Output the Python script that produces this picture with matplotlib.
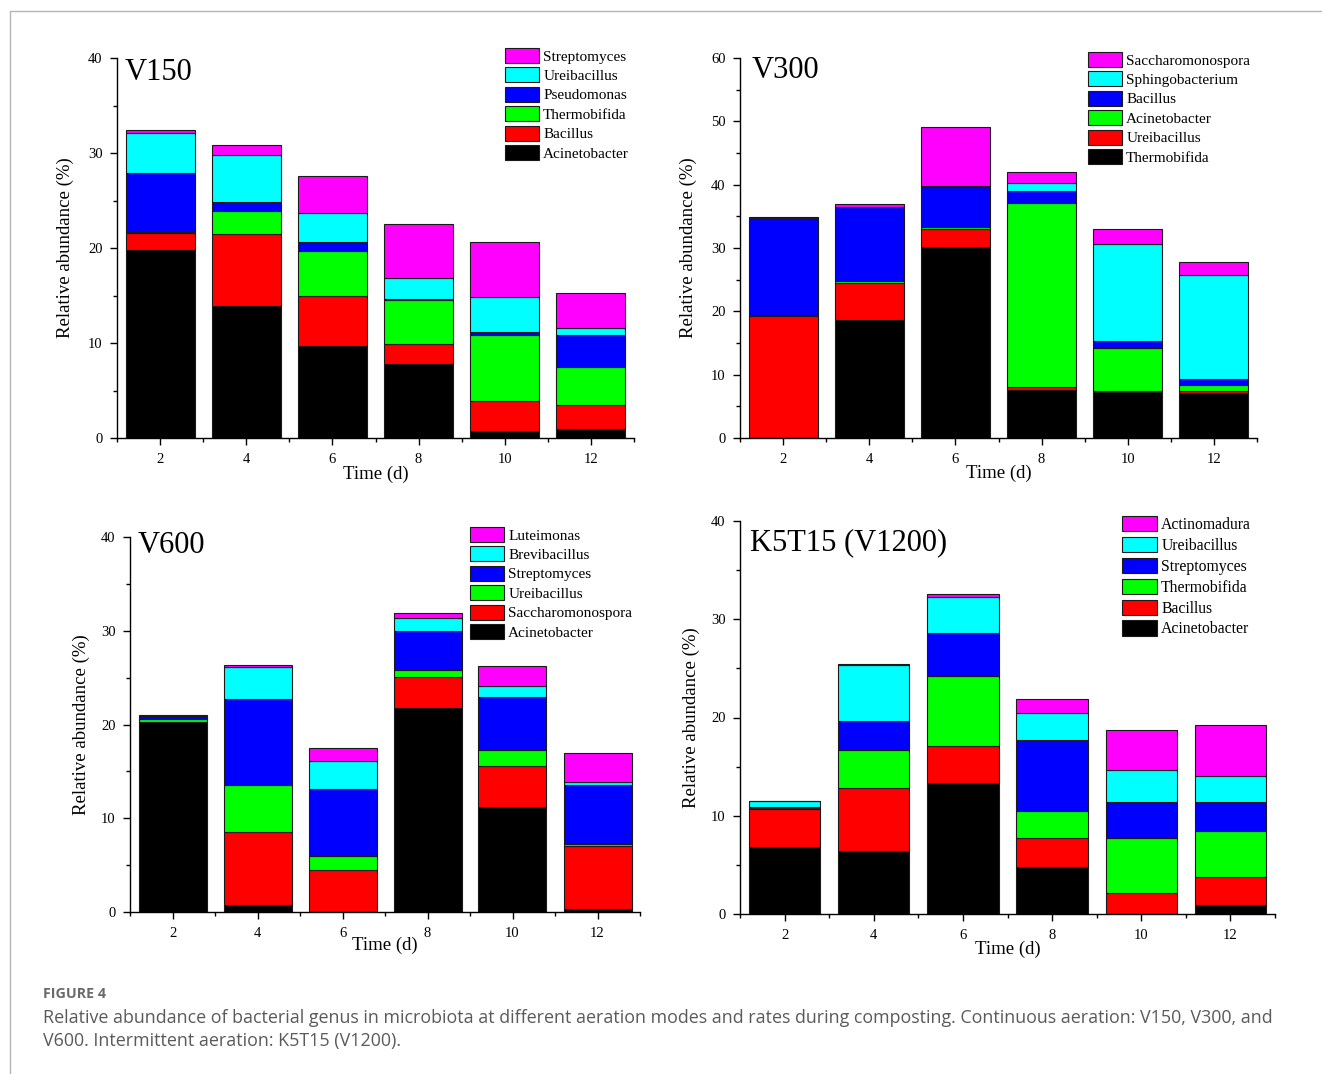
import numpy as np
import matplotlib
matplotlib.use("Agg")
import matplotlib.pyplot as plt
from matplotlib.lines import Line2D
from matplotlib.ticker import MultipleLocator

plt.rcParams.update({"font.family": ["Liberation Serif", "DejaVu Serif"],
                     "axes.linewidth": 1.0, "axes.spines.top": False,
                     "axes.spines.right": False})

W, H = 1322, 1074
days = [2, 4, 6, 8, 10, 12]
# stack colours, bottom -> top
stack_colors = ["#000000", "#FF0000", "#00FF00", "#0000FF", "#00FFFF", "#FF00FF"]

# ---- V150 (bottom -> top) ----
v150_genera = ["Acinetobacter", "Bacillus", "Thermobifida", "Pseudomonas", "Ureibacillus", "Streptomyces"]
v150_values = [
    [19.8, 13.9, 9.7, 7.8, 0.7, 0.9],
    [1.8, 7.6, 5.3, 2.1, 3.2, 2.6],
    [0.1, 2.4, 4.7, 4.6, 6.9, 4.0],
    [6.2, 0.9, 0.9, 0.1, 0.4, 3.3],
    [4.2, 5.0, 3.1, 2.2, 3.6, 0.8],
    [0.3, 1.0, 3.9, 5.7, 5.8, 3.7],
]

# ---- V300 ----
v300_genera = ["Thermobifida", "Ureibacillus", "Acinetobacter", "Bacillus", "Sphingobacterium", "Saccharomonospora"]
v300_values = [
    [0.0, 18.65, 30.2, 7.55, 7.3, 7.05],
    [19.2, 5.85, 2.75, 0.45, 0.05, 0.4],
    [0.25, 0.3, 0.35, 29.05, 6.9, 0.95],
    [15.3, 11.6, 6.4, 1.95, 1.0, 0.9],
    [0.05, 0.1, 0.05, 1.2, 15.45, 16.4],
    [0.1, 0.5, 9.35, 1.8, 2.25, 2.1],
]

# ---- V600 ----
v600_genera = ["Acinetobacter", "Saccharomonospora", "Ureibacillus", "Streptomyces", "Brevibacillus", "Luteimonas"]
v600_values = [
    [20.3, 0.75, 0.0, 21.8, 11.2, 0.35],
    [0.0, 7.75, 4.5, 3.3, 4.4, 6.7],
    [0.25, 5.1, 1.5, 0.7, 1.65, 0.25],
    [0.3, 9.15, 7.1, 4.2, 5.7, 6.25],
    [0.05, 3.35, 3.05, 1.4, 1.2, 0.3],
    [0.1, 0.2, 1.35, 0.5, 2.1, 3.15],
]

# ---- K5T15 (V1200) ----
k5t15_genera = ["Acinetobacter", "Bacillus", "Thermobifida", "Streptomyces", "Ureibacillus", "Actinomadura"]
k5t15_values = [
    [6.85, 6.4, 13.3, 4.8, 0.0, 0.9],
    [3.8, 6.4, 3.8, 2.9, 2.15, 2.85],
    [0.15, 3.85, 7.1, 2.8, 5.6, 4.65],
    [0.05, 3.0, 4.35, 7.2, 3.7, 3.05],
    [0.65, 5.7, 3.7, 2.75, 3.2, 2.6],
    [0.05, 0.1, 0.3, 1.4, 4.1, 5.15],
]

fig = plt.figure(figsize=(W / 100, H / 100), dpi=100)


def px_axes(left, right, y0, y1):
    """axes rect from pixel coords: x of y-axis, x end, y of 0 line, y of top"""
    return [left / W, 1 - y0 / H, (right - left) / W, (y0 - y1) / H]


def panel(rect, genera, values, ymax, title, title_xy, leg_xy, ylab_x, xlab_y, fs_leg=11):
    ax = fig.add_axes(rect)
    bottom = np.zeros(len(days))
    for g, v, c in zip(genera, values, stack_colors):
        ax.bar(days, v, width=1.6, bottom=bottom, color=c, edgecolor="#1a1a1a",
               linewidth=0.8, label=g)
        bottom += np.array(v)
    ax.set_xlim(1, 13)
    ax.set_ylim(0, ymax)
    ax.set_xticks(days)
    ax.set_xticks([1, 3, 5, 7, 9, 11, 13], minor=True)
    ax.yaxis.set_major_locator(MultipleLocator(10))
    ax.yaxis.set_minor_locator(MultipleLocator(5))
    ax.tick_params(which="major", direction="out", length=5, width=1.0, labelsize=10.5, pad=5.5)
    ax.tick_params(which="minor", direction="out", length=3, width=1.0)
    ax.set_xlabel("Time (d)", fontsize=13.5)
    ax.set_ylabel("Relative abundance (%)", fontsize=13.5)
    ax.yaxis.set_label_coords(ylab_x, 0.5)
    ax.xaxis.set_label_coords(0.5, xlab_y)
    ax.text(title_xy[0], title_xy[1], title, transform=ax.transAxes, fontsize=22,
            va="baseline", ha="left")
    h, l = ax.get_legend_handles_labels()
    ax.legend(h[::-1], l[::-1], loc="upper left",
              bbox_to_anchor=(leg_xy[0] / W, 1 - leg_xy[1] / H),
              bbox_transform=fig.transFigure, frameon=False, fontsize=fs_leg,
              borderpad=0, borderaxespad=0, handlelength=2.2, handleheight=1.12,
              handletextpad=0.3, labelspacing=0.25)
    return ax


panel(px_axes(117, 634, 438, 58), v150_genera, v150_values, 40, "V150",
      (0.014, 0.942), (505, 48), -0.083, -0.074)
panel(px_axes(740, 1257, 438, 58), v300_genera, v300_values, 60, "V300",
      (0.023, 0.947), (1088, 52), -0.083, -0.071)
panel(px_axes(130, 640, 912, 537), v600_genera, v600_values, 40, "V600",
      (0.014, 0.957), (470, 527), -0.078, -0.067)
panel(px_axes(740, 1275, 914, 521), k5t15_genera, k5t15_values, 40, "K5T15 (V1200)",
      (0.019, 0.926), (1122, 516), -0.075, -0.069, fs_leg=11.3)

# outer frame of the figure box
fig.add_artist(Line2D([10 / W, 10 / W, 1.0], [0.0, 1 - 11 / H, 1 - 11 / H],
                      transform=fig.transFigure, color="#b5b5b5", linewidth=1.0))

fig.text(43 / W, 1 - 994 / H, "FIGURE 4", fontsize=10.3, fontweight="bold",
         color="#6a6a6a", family=["Open Sans", "DejaVu Sans"], va="center")
fig.text(43 / W, 1 - 1018 / H,
         "Relative abundance of bacterial genus in microbiota at different aeration modes and rates "
         "during composting. Continuous aeration: V150, V300, and",
         fontsize=12.9, color="#5a5a5a", family=["Open Sans", "DejaVu Sans"], va="center")
fig.text(43 / W, 1 - 1041 / H, "V600. Intermittent aeration: K5T15 (V1200).",
         fontsize=12.9, color="#5a5a5a", family=["Open Sans", "DejaVu Sans"], va="center")

fig.savefig("out.png", dpi=100)
